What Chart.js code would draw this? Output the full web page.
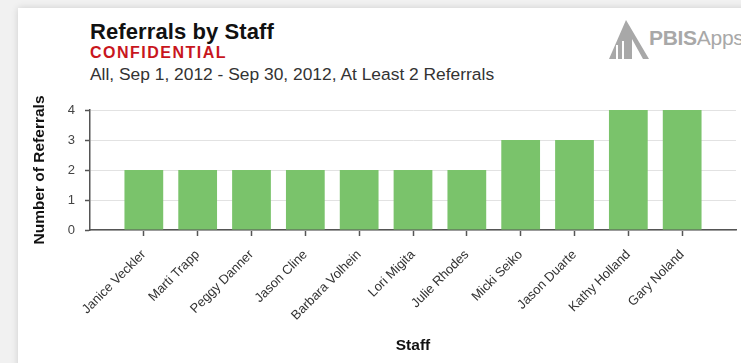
<!DOCTYPE html>
<html>
<head>
<meta charset="utf-8">
<script src="https://cdn.jsdelivr.net/npm/chart.js@4/dist/chart.umd.min.js"></script>
<style>
  html, body { margin: 0; padding: 0; }
  body { width: 741px; height: 363px; overflow: hidden; background: #f1f1f1; position: relative; font-family: "Liberation Sans", Arial, sans-serif; }
  .card { position: absolute; left: 18px; top: 8px; width: 800px; height: 420px; background: #fff; box-shadow: 0 0 7px rgba(0,0,0,0.14); }
  #chart { position: absolute; left: 0; top: 0; }
  .txt { position: absolute; white-space: nowrap; line-height: 1; }
  .title { left: 90px; top: 21.4px; font-size: 22px; font-weight: bold; color: #111; letter-spacing: 0.1px; }
  .conf { left: 90px; top: 44.6px; font-size: 16px; font-weight: bold; color: #c8161d; letter-spacing: 1.5px; }
  .sub { left: 90px; top: 66px; font-size: 17.4px; color: #333; }
  .logo { position: absolute; left: 606px; top: 17px; }
  .brand { left: 649px; top: 27.2px; font-size: 21px; color: #a8a8a8; letter-spacing: -0.3px; }
  .brand b { font-weight: bold; }
</style>
</head>
<body>
<div class="card"></div>
<div class="txt title">Referrals by Staff</div>
<div class="txt conf">CONFIDENTIAL</div>
<div class="txt sub">All, Sep 1, 2012 - Sep 30, 2012, At Least 2 Referrals</div>
<svg class="logo" width="44" height="44" viewBox="0 0 44 44">
  <polygon points="3,42 20,3 43,42 37,42 26,22 26,42" fill="#a8a8a8"/>
  <rect x="10" y="28" width="2" height="14" fill="#fff"/>
  <rect x="16" y="24" width="2" height="18" fill="#fff"/>
</svg>
<div class="txt brand"><b>PBIS</b>Apps</div>
<canvas id="chart" width="741" height="363"></canvas>
<script>
// Staff members with at least two referrals in the period
const staff = [
  'Janice Veckler', 'Marti Trapp', 'Peggy Danner', 'Jason Cline',
  'Barbara Volhein', 'Lori Migita', 'Julie Rhodes', 'Micki Seiko',
  'Jason Duarte', 'Kathy Holland', 'Gary Noland'
];
const referrals = [2, 2, 2, 2, 2, 2, 2, 3, 3, 4, 4];
const yTicks = [0, 1, 2, 3, 4];

const points = staff.map((name, i) => ({ x: i, y: referrals[i] }));
const axisColor = '#555';

new Chart(document.getElementById('chart'), {
  type: 'bar',
  data: {
    datasets: [{
      data: points,
      backgroundColor: '#7ac36b',
      borderWidth: 0,
      categoryPercentage: 1,
      barPercentage: 0.72
    }]
  },
  options: {
    responsive: false,
    animation: false,
    devicePixelRatio: 1,
    layout: { padding: { top: 110, left: 28, right: 5, bottom: 8 } },
    plugins: { legend: { display: false }, tooltip: { enabled: false } },
    scales: {
      x: {
        type: 'linear',
        min: -1,
        max: staff.length,
        offset: false,
        z: 1,
        afterBuildTicks: (scale) => {
          scale.ticks = [-1].concat(staff.map((n, i) => i), [staff.length]).map(v => ({ value: v }));
        },
        afterFit: (scale) => {
          // the outer ticks carry no label, so no extra side padding is needed
          scale.height = 125;
          scale.paddingLeft = 0;
          scale.paddingRight = 0;
        },
        ticks: {
          autoSkip: false,
          minRotation: 45,
          maxRotation: 45,
          padding: 11,
          color: '#333',
          font: { family: 'Liberation Sans', size: 13 },
          callback: (v) => (staff[v] !== undefined ? staff[v] : '')
        },
        grid: {
          offset: false,
          drawOnChartArea: false,
          drawTicks: true,
          tickLength: 6,
          tickWidth: 1.5,
          tickColor: (ctx) => (ctx.tick && staff[ctx.tick.value] !== undefined ? axisColor : 'rgba(0,0,0,0)')
        },
        border: { display: true, color: axisColor, width: 1.5 },
        title: {
          display: true,
          text: 'Staff',
          color: '#111',
          font: { family: 'Liberation Sans', size: 15.5, weight: 'bold' },
          padding: { top: 0, bottom: 0 }
        }
      },
      y: {
        min: 0,
        max: yTicks[yTicks.length - 1],
        afterBuildTicks: (scale) => { scale.ticks = yTicks.map(v => ({ value: v })); },
        afterFit: (scale) => { scale.width = 62; },
        ticks: {
          padding: 10,
          color: '#444',
          font: { family: 'Liberation Sans', size: 13 }
        },
        grid: {
          color: '#e2e2e2',
          lineWidth: 1,
          tickColor: axisColor,
          tickLength: 5,
          tickWidth: 1.5
        },
        border: { display: true, color: axisColor, width: 1.5 },
        title: {
          display: true,
          text: 'Number of Referrals',
          color: '#111',
          font: { family: 'Liberation Sans', size: 15.5, weight: 'bold' },
          padding: { top: 2, bottom: 0 }
        }
      }
    }
  }
});
</script>
</body>
</html>
